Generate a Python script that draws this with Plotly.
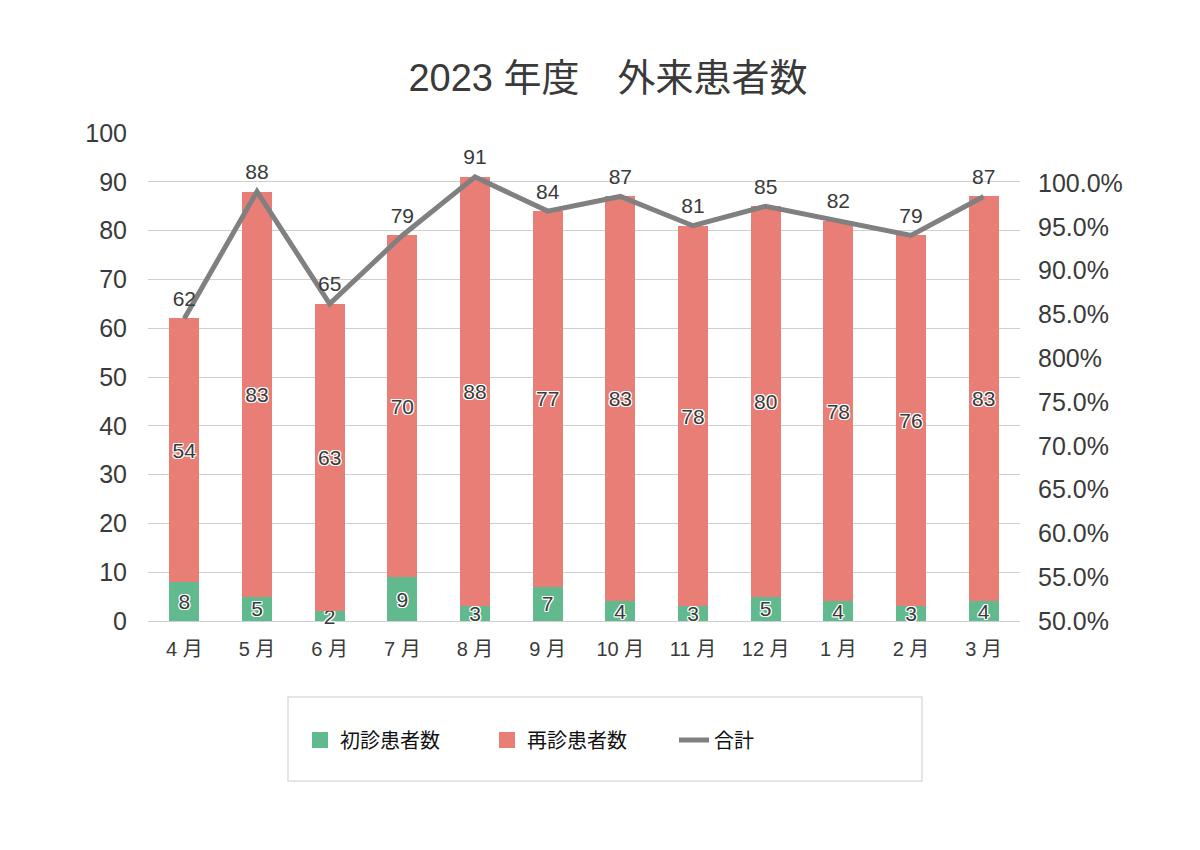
import plotly.graph_objects as go

months = ["4 月", "5 月", "6 月", "7 月", "8 月", "9 月", "10 月", "11 月", "12 月", "1 月", "2 月", "3 月"]
new_patients = [8, 5, 2, 9, 3, 7, 4, 3, 5, 4, 3, 4]
return_patients = [54, 83, 63, 70, 88, 77, 83, 78, 80, 78, 76, 83]
totals = [62, 88, 65, 79, 91, 84, 87, 81, 85, 82, 79, 87]
right_tickvals = [0.50, 0.55, 0.60, 0.65, 0.70, 0.75, 0.80, 0.85, 0.90, 0.95, 1.00]
right_ticktext = ["50.0%", "55.0%", "60.0%", "65.0%", "70.0%", "75.0%", "800%", "85.0%", "90.0%", "95.0%", "100.0%"]

GREEN = "#61b98e"
RED = "#e97e76"
GRAY = "#808080"
TXT = "#3a3a3a"
FONT = "Liberation Sans, Noto Sans CJK JP, sans-serif"
JFONT = "Noto Sans CJK JP, Liberation Sans, sans-serif"
outline = ("white 1px 1px 0px, white -1px -1px 0px, white 1px -1px 0px, white -1px 1px 0px, "
           "white 0px 1px 0px, white 0px -1px 0px, white 1px 0px 0px, white -1px 0px 0px")

OFF = 8  # page body margin
W, H = 1200, 850
L = 148 - OFF
T = 133 - OFF
R = W - (1020 - OFF)
B = H - (621 - OFF)
pw, ph = W - L - R, H - T - B


def px_x(p):
    return (p - OFF - L) / pw


def px_y(p):
    return (H - B - (p - OFF)) / ph


fig = go.Figure()
fig.add_trace(go.Bar(
    x=months, y=new_patients, name="初診患者数", marker_color=GREEN,
    marker_line_width=0, text=new_patients, textposition="inside",
    insidetextanchor="middle", textangle=0, constraintext="none",
    cliponaxis=False,
    textfont=dict(size=21, color=TXT, family=FONT, shadow=outline),
    showlegend=False, hoverinfo="skip",
))
fig.add_trace(go.Bar(
    x=months, y=return_patients, name="再診患者数", marker_color=RED,
    marker_line_width=0, text=return_patients, textposition="inside",
    insidetextanchor="middle", textangle=0, constraintext="none",
    cliponaxis=False,
    textfont=dict(size=21, color=TXT, family=FONT, shadow=outline),
    showlegend=False, hoverinfo="skip",
))
fig.add_trace(go.Scatter(
    x=months, y=totals, name="合計", mode="lines+markers+text",
    line=dict(color=GRAY, width=5), marker=dict(size=10, opacity=0),
    text=totals, textposition="top center", cliponaxis=False,
    textfont=dict(size=21, color=TXT, family=FONT), showlegend=False,
))
# invisible trace so the right axis is drawn
fig.add_trace(go.Scatter(x=[months[0]], y=[None], yaxis="y2", mode="markers",
                         showlegend=False, hoverinfo="skip"))
# legend entries
fig.add_trace(go.Scatter(x=[None], y=[None], mode="markers", name="初診患者数",
                         marker=dict(symbol="square", size=20, color=GREEN)))
fig.add_trace(go.Scatter(x=[None], y=[None], mode="markers", name="再診患者数",
                         marker=dict(symbol="square", size=20, color=RED)))
fig.add_trace(go.Scatter(x=[None], y=[None], mode="lines", name="合計",
                         line=dict(color=GRAY, width=5)))

fig.update_layout(
    width=W, height=H,
    margin=dict(l=L, r=R, t=T, b=B, autoexpand=False),
    paper_bgcolor="white", plot_bgcolor="white",
    barmode="stack", bargap=0.59,
    uniformtext=dict(minsize=21, mode="show"),
    title=dict(text="2023 年度　外来患者数", x=0.5, xanchor="center",
               y=1 - (78 - OFF) / H, yanchor="middle",
               font=dict(size=38, color=TXT, family=FONT)),
    xaxis=dict(showgrid=False, showline=False, ticks="",
               range=[-0.5, len(months) - 0.5],
               tickfont=dict(size=20, color=TXT, family=FONT),
               ticklabelstandoff=14),
    yaxis=dict(range=[0, 100], tickvals=list(range(0, 101, 10)),
               showgrid=True, gridcolor="#cfcfcf", gridwidth=1,
               zeroline=True, zerolinecolor="#cfcfcf", zerolinewidth=1,
               showline=False, ticks="",
               tickfont=dict(size=25, color=TXT, family=FONT),
               ticklabelstandoff=20),
    yaxis2=dict(overlaying="y", side="right",
                range=[0.5, 0.5 + ph * (0.5 / 438)],
                tickvals=right_tickvals, ticktext=right_ticktext,
                showgrid=False, zeroline=False, showline=False, ticks="",
                tickfont=dict(size=25, color=TXT, family=FONT),
                ticklabelstandoff=17),
    legend=dict(orientation="h", traceorder="normal",
                x=px_x(300), xanchor="left",
                y=px_y(740), yanchor="middle", bgcolor="rgba(0,0,0,0)",
                borderwidth=0, entrywidth=142,
                font=dict(size=20, color="#111111", family=JFONT)),
    shapes=[dict(type="rect", xref="paper", yref="paper",
                 x0=px_x(288), x1=px_x(922), y0=px_y(781), y1=px_y(697),
                 line=dict(color="#dddddd", width=1.5), fillcolor="rgba(0,0,0,0)",
                 layer="below")],
)

fig.write_html("out.html")
